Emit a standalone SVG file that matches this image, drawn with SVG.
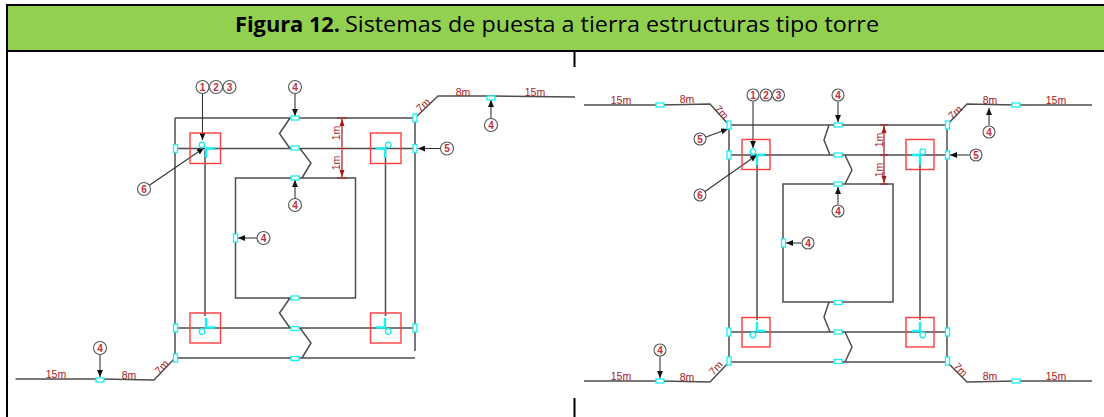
<svg xmlns="http://www.w3.org/2000/svg" width="1104" height="417" viewBox="0 0 1104 417">
<style>
.w{fill:none;stroke:#4e4e4e;stroke-width:1.5}
.l{fill:none;stroke:#333;stroke-width:1.1;marker-end:url(#a)}
.d{fill:none;stroke:#a81818;stroke-width:1.2;marker-start:url(#r);marker-end:url(#r)}
.t{fill:none;stroke:#a81818;stroke-width:1.1}
.s{fill:none;stroke:#ff3c3c;stroke-width:1.4}
.c{fill:#fff;stroke:#19f0f0;stroke-width:1.3}
.y{fill:none;stroke:#19f0f0;stroke-width:2.4}
.n circle{fill:#fff;stroke:#555;stroke-width:1.1}
.n text{font:bold 10px "Liberation Sans",Arial,sans-serif;fill:#c0303a;text-anchor:middle}
.m{font:10.5px "Liberation Sans",Arial,sans-serif;fill:#a81818;text-anchor:middle}
.h{font-family:"Open Sans",sans-serif;font-size:21px;fill:#000}
</style>
<defs>
<marker id="a" markerUnits="userSpaceOnUse" markerWidth="8" markerHeight="6" refX="7" refY="3" orient="auto"><path d="M0 0L7 3L0 6Z" fill="#111"/></marker>
<marker id="r" markerUnits="userSpaceOnUse" markerWidth="8" markerHeight="6" refX="7" refY="3" orient="auto-start-reverse"><path d="M0 .5L7 3L0 5.500Z" fill="#a81818"/></marker>
<rect id="wd" class="c" x="-4" y="-2" width="8" height="4"/>
<rect id="tl" class="c" x="-2" y="-4" width="4" height="8"/>
</defs>
<g id="frame">
<rect x="7" y="5" width="1097" height="46" fill="#92d050"/>
<path d="M7 5H1104M7 51H1104M7 4V417M574.500 51V67M574.500 398V417" fill="none" stroke="#000" stroke-width="2"/>
<text class="h" x="235" y="32" font-weight="bold" textLength="105" lengthAdjust="spacingAndGlyphs">Figura 12.</text>
<text class="h" x="345" y="32" textLength="534" lengthAdjust="spacingAndGlyphs">Sistemas de puesta a tierra estructuras tipo torre</text>
</g>
<g id="connectors">
<path class="w" d="M175 118H415V351M175 118V358M175 148.500H415M175 328H415M175 358H415M235.500 178H355.500V298H235.500ZM290 118L279.500 133.500L290 148.500M300 148.500L311 163L302 178M290 298L279.500 313L290 328M300 328L311 343L302 358M205 150V316M385.500 150V316M415 118L438 96H491L575 97M15.500 379H100L154 380L175 358"/>
<path class="w" d="M729 125H947V362H729ZM729 155H947M729 332H947M783 184H893V302H783ZM829 125L824 140L830 155M845 155L852 170L845 184M829 302L824 317L830 332M845 332L852 347L845 362M757 155V320M920 155V320M729 125L710 104L660 105H584M947 125L967 104L1016 105H1092M729 362L710 382L660 381H584M947 362L967 382L1016 381H1092"/>
<path class="l" d="M202.500 93.500V140"/><path class="l" d="M295 93.500V116"/><path class="l" d="M149 185.500L204 148"/><path class="l" d="M295 198.500V180"/><path class="l" d="M257 238H238"/><path class="l" d="M440.500 148.500H418"/><path class="l" d="M491 118.500V100"/><path class="l" d="M100 354.500V377"/>
<path class="l" d="M753 101.500V148"/><path class="l" d="M838 101.500V122"/><path class="l" d="M706 137L728 129"/><path class="l" d="M705 191.500L757 155"/><path class="l" d="M838 204.500V187"/><path class="l" d="M801.500 243H786"/><path class="l" d="M969.500 155H950"/><path class="l" d="M989 125.500V108"/><path class="l" d="M660 356.500V378"/>
<path class="d" d="M342 119V147.500M342 149.500V177"/><path class="t" d="M337 118H347M337 148.500H347M337 178H347"/>
<path class="d" d="M884 126V154M884 156V183"/><path class="t" d="M880 125H888M880 155H888M880 184H888"/>
</g>
<g id="squares">
<rect class="s" x="190" y="133" width="30.500" height="30.500"/><rect class="s" x="370.500" y="133" width="30.500" height="30.500"/><rect class="s" x="190" y="313" width="30.500" height="30"/><rect class="s" x="370.500" y="313" width="30.500" height="30"/>
<rect class="s" x="742" y="139.500" width="28" height="30"/><rect class="s" x="906" y="139.500" width="28" height="30"/><rect class="s" x="742" y="317.500" width="28" height="29.500"/><rect class="s" x="906" y="317.500" width="28" height="29.500"/>
</g>
<g id="electrodes">
<path class="y" d="M205 148.500H215M206 148.500V158M376 148.500H386M385 148.500V158M206 318V327.500H215M385 318V327.500H376"/>
<path class="y" d="M757 155H765M757 155V165M912 155H920M920 155V165M757 322V331H765M920 322V331H912"/>
<circle class="c" cx="202" cy="145" r="2.800"/><circle class="c" cx="388.300" cy="145" r="2.800"/><circle class="c" cx="202" cy="331.500" r="2.800"/><circle class="c" cx="388.300" cy="331.500" r="2.800"/>
<circle class="c" cx="753" cy="151.700" r="2.800"/><circle class="c" cx="922.700" cy="151.700" r="2.800"/><circle class="c" cx="753" cy="335" r="2.800"/><circle class="c" cx="922.700" cy="335" r="2.800"/>
</g>
<g id="clamps">
<use href="#wd" x="295" y="118"/><use href="#wd" x="295" y="148"/><use href="#wd" x="295" y="178"/><use href="#wd" x="295" y="298"/><use href="#wd" x="295" y="328.500"/><use href="#wd" x="295" y="358.500"/><use href="#wd" x="491" y="98"/><use href="#wd" x="100" y="380"/>
<use href="#tl" x="175.500" y="148.500"/><use href="#tl" x="415" y="118"/><use href="#tl" x="415" y="148.500"/><use href="#tl" x="175.500" y="328"/><use href="#tl" x="175.500" y="358"/><use href="#tl" x="415" y="328"/><use href="#tl" x="235.500" y="238"/>
<use href="#wd" x="838" y="125"/><use href="#wd" x="838" y="155"/><use href="#wd" x="838" y="184"/><use href="#wd" x="838" y="302.500"/><use href="#wd" x="838" y="332"/><use href="#wd" x="838" y="361.500"/><use href="#wd" x="660" y="105"/><use href="#wd" x="1016" y="105"/><use href="#wd" x="660" y="381"/><use href="#wd" x="1016" y="381"/>
<use href="#tl" x="729" y="125"/><use href="#tl" x="729" y="155"/><use href="#tl" x="729" y="332"/><use href="#tl" x="729" y="361"/><use href="#tl" x="947.500" y="125"/><use href="#tl" x="947.500" y="155"/><use href="#tl" x="947.500" y="332"/><use href="#tl" x="947.500" y="361"/><use href="#tl" x="783.500" y="243"/>
</g>
<g id="labels">
<text class="m" x="463" y="95.500">8m</text><text class="m" x="535" y="96">15m</text><text class="m" transform="translate(425.500 107.500) rotate(-43)">7m</text>
<text class="m" x="56" y="378">15m</text><text class="m" x="129" y="379">8m</text><text class="m" transform="translate(164.500 369.500) rotate(-48)">7m</text>
<text class="m" transform="translate(339.500 133) rotate(-90)">1m</text><text class="m" transform="translate(339.500 163) rotate(-90)">1m</text>
<text class="m" x="621" y="104">15m</text><text class="m" x="687" y="103">8m</text><text class="m" transform="translate(719 114.500) rotate(47)">7m</text>
<text class="m" transform="translate(957.500 115) rotate(-43)">7m</text><text class="m" x="990" y="104">8m</text><text class="m" x="1056" y="104">15m</text>
<text class="m" x="621" y="380">15m</text><text class="m" x="687" y="381">8m</text><text class="m" transform="translate(718.500 370.500) rotate(-47)">7m</text>
<text class="m" transform="translate(958 372) rotate(47)">7m</text><text class="m" x="990" y="380">8m</text><text class="m" x="1056" y="380">15m</text>
<text class="m" transform="translate(882.500 140) rotate(-90)">1m</text><text class="m" transform="translate(882.500 170) rotate(-90)">1m</text>
</g>
<g id="n-l1" class="n"><circle cx="202.500" cy="87" r="6.500"/><text x="202.500" y="90.500">1</text></g>
<g id="n-l2" class="n"><circle cx="216" cy="87" r="6.500"/><text x="216" y="90.500">2</text></g>
<g id="n-l3" class="n"><circle cx="229.500" cy="87" r="6.500"/><text x="229.500" y="90.500">3</text></g>
<g id="n-l4a" class="n"><circle cx="295" cy="87" r="6.500"/><text x="295" y="90.500">4</text></g>
<g id="n-l6" class="n"><circle cx="144" cy="189" r="6.500"/><text x="144" y="192.500">6</text></g>
<g id="n-l4b" class="n"><circle cx="295" cy="205" r="6.500"/><text x="295" y="208.500">4</text></g>
<g id="n-l4c" class="n"><circle cx="263.500" cy="238" r="6.500"/><text x="263.500" y="241.500">4</text></g>
<g id="n-l5" class="n"><circle cx="447" cy="148.500" r="6.500"/><text x="447" y="152">5</text></g>
<g id="n-l4d" class="n"><circle cx="491" cy="125" r="6.500"/><text x="491" y="128.500">4</text></g>
<g id="n-l4e" class="n"><circle cx="100" cy="348" r="6.500"/><text x="100" y="351.500">4</text></g>
<g id="n-r1" class="n"><circle cx="753" cy="95" r="6"/><text x="753" y="98.500">1</text></g>
<g id="n-r2" class="n"><circle cx="766" cy="95" r="6"/><text x="766" y="98.500">2</text></g>
<g id="n-r3" class="n"><circle cx="778.500" cy="95" r="6"/><text x="778.500" y="98.500">3</text></g>
<g id="n-r4a" class="n"><circle cx="838" cy="95" r="6"/><text x="838" y="98.500">4</text></g>
<g id="n-r5a" class="n"><circle cx="700" cy="139" r="6"/><text x="700" y="142.500">5</text></g>
<g id="n-r6" class="n"><circle cx="700" cy="195" r="6"/><text x="700" y="198.500">6</text></g>
<g id="n-r4b" class="n"><circle cx="838" cy="211" r="6"/><text x="838" y="214.500">4</text></g>
<g id="n-r4c" class="n"><circle cx="808" cy="243" r="6"/><text x="808" y="246.500">4</text></g>
<g id="n-r5b" class="n"><circle cx="976" cy="155" r="6"/><text x="976" y="158.500">5</text></g>
<g id="n-r4d" class="n"><circle cx="989" cy="132" r="6"/><text x="989" y="135.500">4</text></g>
<g id="n-r4e" class="n"><circle cx="660" cy="350" r="6"/><text x="660" y="353.500">4</text></g>
</svg>
